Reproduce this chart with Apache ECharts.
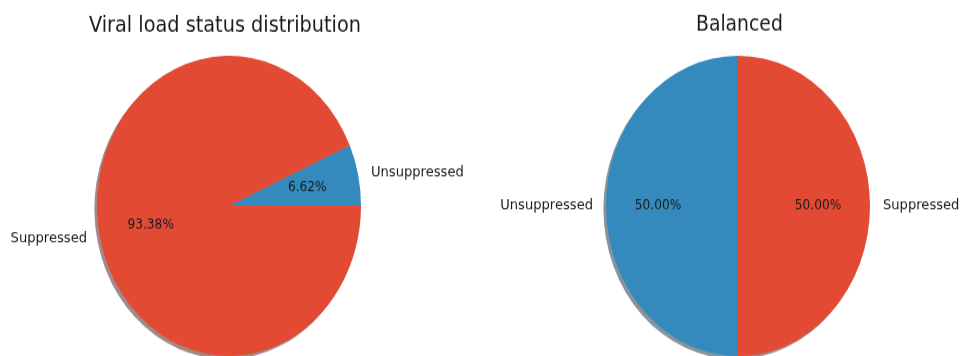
<!DOCTYPE html>
<html>
<head>
<meta charset="utf-8">
<title>Viral load status distribution</title>
<script src="https://cdn.jsdelivr.net/npm/echarts@6/dist/echarts.min.js"></script>
<style>
  html, body { margin: 0; padding: 0; background: #fff; }
  body { width: 964px; height: 356px; overflow: hidden; }
  /* the source image is stretched vertically, so the pies look like ellipses */
  #chart { width: 964px; height: 313px; transform: scaleY(1.1374); transform-origin: 0 0; }
</style>
</head>
<body>
<div id="chart"></div>
<script>
const categories = ['Unsuppressed', 'Suppressed'];
const viralValues = [6.62, 93.38];
const balancedValues = [50, 50];
const titles = ['Viral load status distribution', 'Balanced'];

const colors = ['#348ABD', '#E24A33'];
const shadowColors = ['rgba(16,41,57,0.5)', 'rgba(68,22,15,0.5)'];
const font = 'DejaVu Sans';
const R = 132;

function toData(values, cols) {
  return categories.map(function (name, i) {
    return { name: name, value: values[i], itemStyle: { color: cols[i] } };
  });
}

function pieSeries(values, center, startAngle) {
  return [
    {
      // shadow under the pie
      type: 'pie',
      silent: true,
      center: [center[0] - 2.6, center[1] + 2.6],
      radius: R,
      startAngle: startAngle,
      clockwise: false,
      label: { show: false },
      labelLine: { show: false },
      data: toData(values, shadowColors),
      z: 1
    },
    {
      type: 'pie',
      silent: true,
      center: center,
      radius: R,
      startAngle: startAngle,
      clockwise: false,
      avoidLabelOverlap: false,
      label: {
        show: true,
        position: 'outside',
        formatter: '{b}',
        color: '#1a1a1a',
        fontFamily: font,
        fontSize: 13.1
      },
      labelLine: { show: false, length: 8, length2: 0 },
      data: toData(values, colors),
      z: 2
    },
    {
      // percentages, drawn at 0.6 of the radius
      type: 'pie',
      silent: true,
      center: center,
      radius: [22, R],
      startAngle: startAngle,
      clockwise: false,
      avoidLabelOverlap: false,
      label: {
        show: true,
        position: 'inside',
        formatter: function (p) { return p.percent.toFixed(2) + '%'; },
        color: '#1a1a1a',
        fontFamily: font,
        fontSize: 12.2
      },
      labelLine: { show: false },
      data: toData(values, ['rgba(0,0,0,0)', 'rgba(0,0,0,0)']),
      z: 3
    }
  ];
}

var myChart = echarts.init(document.getElementById('chart'));
myChart.setOption({
  animation: false,
  title: [
    {
      text: titles[0],
      left: 84,
      top: 8,
      textStyle: { fontFamily: font, fontSize: 19.3, fontWeight: 'normal', color: '#1a1a1a' }
    },
    {
      text: titles[1],
      left: 691,
      top: 8,
      textStyle: { fontFamily: font, fontSize: 18.8, fontWeight: 'normal', color: '#1a1a1a' }
    }
  ],
  series: pieSeries(viralValues, [229, 181], 0)
    .concat(pieSeries(balancedValues, [738, 181], 90))
});
</script>
</body>
</html>
